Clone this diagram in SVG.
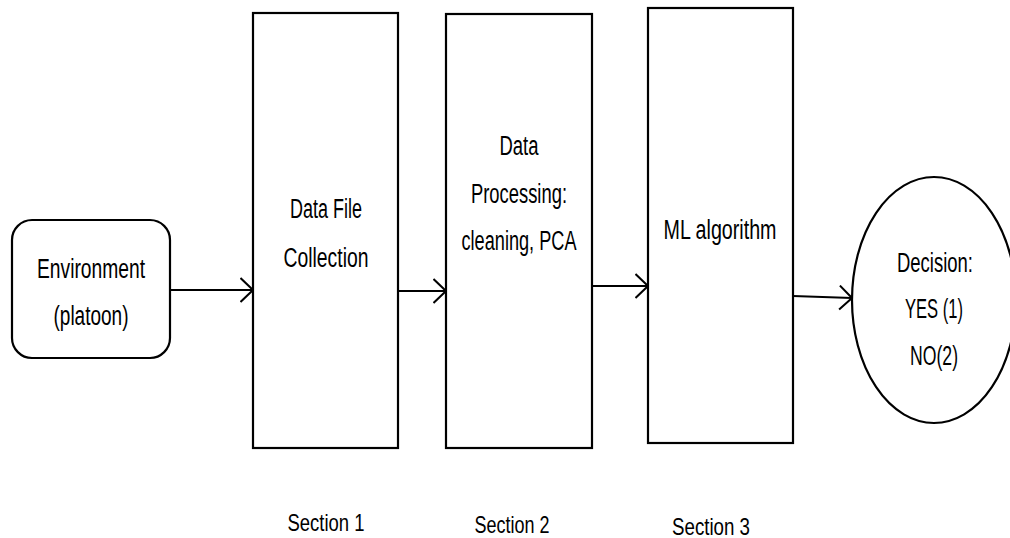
<svg xmlns="http://www.w3.org/2000/svg" width="1010" height="538" viewBox="0 0 1010 538">
<style>
.shape{fill:#fff;stroke:#000;stroke-width:2.2}
.conn{fill:none;stroke:#000;stroke-width:2}
.lbl{font-family:"Liberation Sans",Arial,sans-serif;font-size:27px;fill:#000;text-anchor:middle}
.sec{font-family:"Liberation Sans",Arial,sans-serif;font-size:24px;fill:#000;text-anchor:middle}
</style>
<defs>
<marker id="arr" viewBox="0 0 14 26" refX="13.5" refY="13" markerWidth="14" markerHeight="26" markerUnits="userSpaceOnUse" orient="auto">
<path d="M1,1 L13.5,13 L1,25" fill="none" stroke="#000" stroke-width="2"/>
</marker>
</defs>
<rect width="1010" height="538" fill="#fff"/>
<g id="environment">
<rect class="shape" x="12" y="220" width="158" height="138" rx="20" ry="20"/>
<text class="lbl" x="91" y="278" textLength="108" lengthAdjust="spacingAndGlyphs">Environment</text>
<text class="lbl" x="91" y="325" textLength="75" lengthAdjust="spacingAndGlyphs">(platoon)</text>
</g>
<g id="data-file-collection">
<rect class="shape" x="253" y="13" width="145" height="435"/>
<text class="lbl" x="326" y="218" textLength="72" lengthAdjust="spacingAndGlyphs">Data File</text>
<text class="lbl" x="326" y="267" textLength="85" lengthAdjust="spacingAndGlyphs">Collection</text>
</g>
<g id="data-processing">
<rect class="shape" x="446" y="14" width="146" height="434"/>
<text class="lbl" x="519" y="155" textLength="39" lengthAdjust="spacingAndGlyphs">Data</text>
<text class="lbl" x="519" y="203" textLength="96" lengthAdjust="spacingAndGlyphs">Processing:</text>
<text class="lbl" x="519" y="250" textLength="115" lengthAdjust="spacingAndGlyphs">cleaning, PCA</text>
</g>
<g id="ml-algorithm">
<rect class="shape" x="648" y="8" width="145" height="435"/>
<text class="lbl" x="720" y="239" textLength="113" lengthAdjust="spacingAndGlyphs">ML algorithm</text>
</g>
<g id="decision">
<ellipse class="shape" cx="934" cy="300" rx="82" ry="123"/>
<text class="lbl" x="935" y="272" textLength="76" lengthAdjust="spacingAndGlyphs">Decision:</text>
<text class="lbl" x="934" y="318" textLength="58" lengthAdjust="spacingAndGlyphs">YES (1)</text>
<text class="lbl" x="934" y="365" textLength="48" lengthAdjust="spacingAndGlyphs">NO(2)</text>
</g>
<g id="section-labels">
<text class="sec" x="326" y="531" textLength="77" lengthAdjust="spacingAndGlyphs">Section 1</text>
<text class="sec" x="512" y="533" textLength="75" lengthAdjust="spacingAndGlyphs">Section 2</text>
<text class="sec" x="711" y="535" textLength="78" lengthAdjust="spacingAndGlyphs">Section 3</text>
</g>
<g id="connectors">
<line class="conn" x1="170" y1="290" x2="253" y2="290" marker-end="url(#arr)"/>
<line class="conn" x1="398" y1="291" x2="446" y2="291" marker-end="url(#arr)"/>
<line class="conn" x1="592" y1="286" x2="648" y2="286" marker-end="url(#arr)"/>
<line class="conn" x1="793" y1="296" x2="852" y2="298" marker-end="url(#arr)"/>
</g>
</svg>
